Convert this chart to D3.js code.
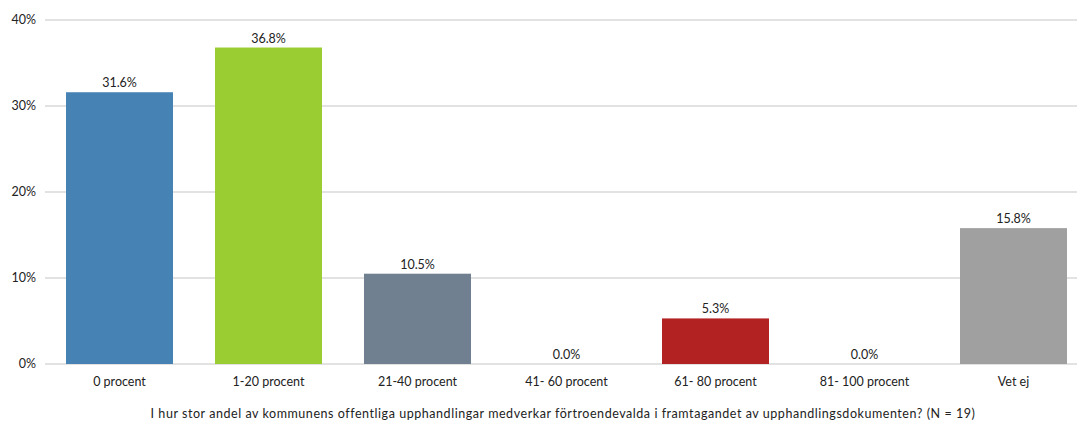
<!DOCTYPE html>
<html><head><meta charset="utf-8">
<script src="https://cdn.jsdelivr.net/npm/d3@7"></script>
<style>body{margin:0;background:#fff}svg{display:block}text{font-family:Lato,"Open Sans",sans-serif;fill:#222}</style>
</head><body>
<svg id="c" width="1077" height="424"></svg>
<script>
const categories = ["0 procent","1-20 procent","21-40 procent","41- 60 procent","61- 80 procent","81- 100 procent","Vet ej"];
const values = [31.6, 36.8, 10.5, 0.0, 5.3, 0.0, 15.8];
const colors = ["#4682B4","#9ACD32","#708090","#708090","#B22222","#A0A0A0","#A0A0A0"];
const yTicks = [0, 10, 20, 30, 40];
const axisTitle = "I hur stor andel av kommunens offentliga upphandlingar medverkar förtroendevalda i framtagandet av upphandlingsdokumenten? (N = 19)";

const svg = d3.select("#c");
const x = d3.scaleBand().domain(categories).range([45, 1088]).paddingInner(0.282).paddingOuter(0.141);
const y = d3.scaleLinear().domain([0, 40]).range([364, 20]);

svg.append("g").selectAll("line").data(yTicks).join("line")
  .attr("x1", 45).attr("x2", 1077)
  .attr("y1", d => y(d)).attr("y2", d => y(d))
  .attr("stroke", "#d9d9d9").attr("stroke-width", 1.3);

svg.append("g").selectAll("text").data(yTicks).join("text")
  .attr("x", 36).attr("y", d => y(d)).attr("dy", "0.35em")
  .attr("text-anchor", "end").attr("font-size", 12.5)
  .text(d => d + "%");

svg.append("g").selectAll("rect").data(values).join("rect")
  .attr("x", (d, i) => x(categories[i])).attr("width", x.bandwidth())
  .attr("y", d => y(d)).attr("height", d => y(0) - y(d))
  .attr("fill", (d, i) => colors[i]);

svg.append("g").selectAll("text").data(values).join("text")
  .attr("x", (d, i) => x(categories[i]) + x.bandwidth() / 2)
  .attr("y", d => y(d) - 5)
  .attr("text-anchor", "middle").attr("font-size", 12.5)
  .text(d => d.toFixed(1) + "%");

svg.append("g").selectAll("text").data(categories).join("text")
  .attr("x", d => x(d) + x.bandwidth() / 2).attr("y", 382).attr("dy", "0.35em")
  .attr("text-anchor", "middle").attr("font-size", 12.5)
  .text(d => d);

svg.append("text").attr("x", 563).attr("y", 414).attr("dy", "0.35em")
  .attr("text-anchor", "middle").attr("font-size", 12.5).attr("letter-spacing", 0.55).text(axisTitle);
</script>
</body></html>
